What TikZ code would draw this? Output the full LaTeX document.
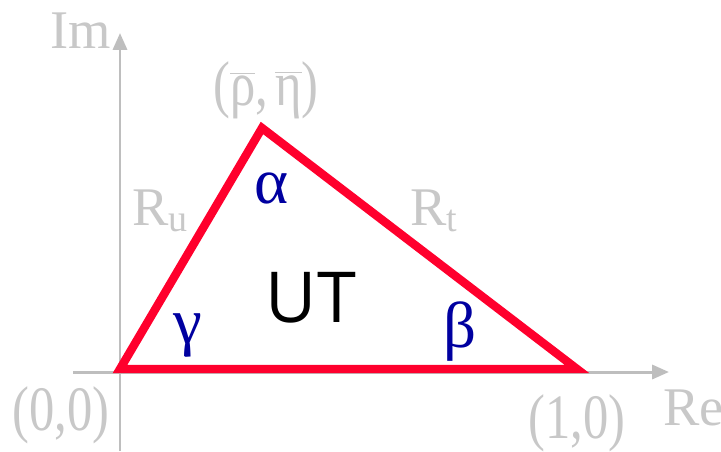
\documentclass[tikz,border=0pt]{standalone}
\usepackage{fontspec}
\setmainfont{Liberation Serif}
\newfontfamily\utfont{Open Sans}
\newfontfamily\pointfont[FakeStretch=0.8]{Liberation Serif}
\usetikzlibrary{arrows.meta}
\definecolor{axisgray}{RGB}{190,190,190}
\definecolor{labelgray}{RGB}{200,200,200}
\definecolor{utred}{RGB}{255,0,45}
\definecolor{angleblue}{RGB}{0,0,160}
\tikzset{
  axis/.style={axisgray, line width=1.7pt, -{Triangle[length=9.6pt,width=8pt]}},
  axislabel/.style={labelgray, inner sep=0pt, font=\fontsize{31}{36}\selectfont},
  pointlabel/.style={labelgray, inner sep=0pt, anchor=base, font=\pointfont\fontsize{36}{44}\selectfont},
  anglelabel/.style={angleblue, inner sep=0pt, anchor=base, font=\fontsize{37}{44}\selectfont}
}
\begin{document}
\begin{tikzpicture}[x=0.02cm, y=-0.02cm]
  \useasboundingbox (0,0) rectangle (721,451);
  \coordinate (ylow) at (120,451);
  \coordinate (ytop) at (120,33);
  \coordinate (xlow) at (73,372);
  \coordinate (xtop) at (669,372);
  \draw[axis] (ylow) -- (ytop);
  \draw[axis] (xlow) -- (xtop);
  \coordinate (O) at (120,369);
  \coordinate (A) at (262,128);
  \coordinate (B) at (577,369);
  \draw[utred, line width=4.8pt, line join=miter] (O) -- (A) -- (B) -- cycle;
  \node[axislabel, anchor=base] (im) at (81,48) {Im};
  \node[axislabel, anchor=base west] (re) at (663,425) {Re};
  \node[axislabel, anchor=base west] (ru) at (132,225) {R\textsubscript{u}};
  \node[axislabel, anchor=base west] (rt) at (410,225) {R\textsubscript{t}};
  \node[pointlabel] (apex) at (266,105) {($\overline{\hbox{ρ}}$,$\,\overline{\hbox{η}}$)};
  \node[pointlabel] (origin) at (61,430) {(0,0)};
  \node[pointlabel] (one) at (577,438) {(1,0)};
  \node[anglelabel] (alpha) at (272,203) {α};
  \node[anglelabel] (beta) at (460,347) {β};
  \node[anglelabel] (gamma) at (188,343) {γ};
  \node[inner sep=0pt, anchor=base, font=\utfont\fontsize{40}{48}\selectfont] (ut) at (311,322) {UT};
\end{tikzpicture}
\end{document}
